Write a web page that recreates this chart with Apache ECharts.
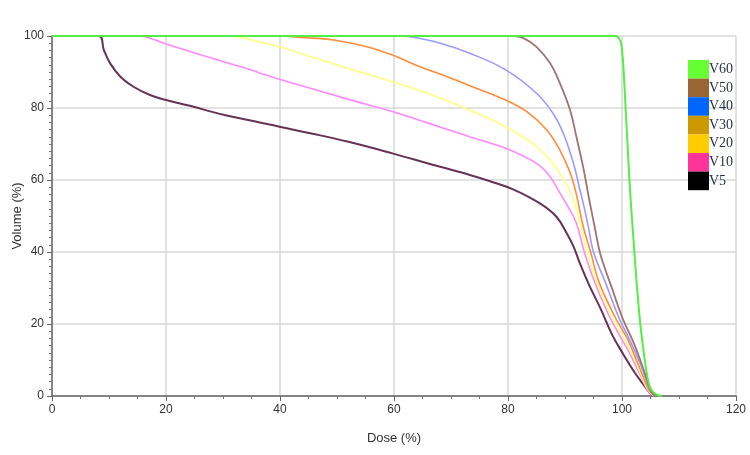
<!DOCTYPE html>
<html lang="en">
<head>
    <meta charset="UTF-8">
    <title>DVH</title>
    <script src="https://cdn.jsdelivr.net/npm/echarts@6/dist/echarts.min.js"></script>
    <style>
        html, body { margin: 0; padding: 0; background: #fff; }
        #main { width: 750px; height: 455px; }
    </style>
</head>
<body>
    <div id="main"></div>
    <script>
        // dose (%) / volume (%) pairs
        var v5 = [[0, 100], [8.2, 100], [9.1, 96.1], [10.2, 92.4], [12, 88.7], [14.3, 85.9], [17.2, 83.6],
            [20, 82.2], [24.2, 80.6], [30.1, 78.1], [35.9, 76.2], [39.9, 74.8], [45.3, 73], [52, 70.6],
            [59.7, 67.4], [66, 64.6], [73.3, 61.4], [77, 59.6], [80.9, 57.4], [85.6, 53.5], [88.5, 49.8],
            [90.3, 45.2], [91.5, 41.5], [92.6, 36.9], [94.3, 30.6], [96.2, 24.4], [98.3, 16.9], [100.3, 11.4],
            [102.1, 6.8], [103.8, 3.1], [105, 0.7], [105.7, 0]];
        var v10 = [[0, 100], [15, 100], [20, 97.8], [27.1, 94.3], [33, 91.5], [39.9, 88], [45.3, 85.5],
            [52, 82.4], [59.7, 79], [66, 75.8], [73.3, 72], [79.6, 68.8], [85, 64.6], [87.4, 60.9], [88.8, 57.2],
            [90.3, 53.2], [92, 48], [93.3, 40.5], [95, 32.5], [97.4, 23.4], [99.2, 17.9], [101.2, 12.3],
            [103.2, 5.8], [104.7, 1.2], [105.7, 0]];
        var v20 = [[0, 100], [31.3, 100], [35, 98.9], [39.9, 97], [45.3, 94.3], [52, 91], [59.7, 87.3],
            [66, 84], [73.3, 79.4], [79.6, 74.8], [85, 69.3], [87.9, 64.6], [90, 59.6], [91.5, 54.4],
            [92.6, 48], [93.9, 40], [95.5, 31.8], [98.3, 21.6], [100.3, 16], [102.4, 9.5], [104.4, 2.1], [105.7, 0]];
        var v30 = [[0, 100], [40, 100], [43.5, 99.6], [49.4, 98.9], [55.2, 97], [59.7, 94.7], [64, 91.8],
            [69.8, 88.4], [73.3, 86.2], [79.6, 82.2], [83.3, 79], [86.8, 73.9], [89.1, 68.3], [90.9, 62],
            [92, 56], [93.2, 47], [94.5, 40], [96, 31.5], [98.9, 21.6], [100.9, 16], [102.9, 8.6], [104.7, 1.7],
            [105.7, 0]];
        var v40 = [[0, 100], [61, 100], [62.8, 99.8], [68.1, 98], [73.3, 95.2], [79.6, 90.6], [85, 84.1],
            [87.9, 78.5], [89.7, 73], [91.5, 64.6], [92.5, 58], [93.2, 53.5], [94.1, 47], [95, 40], [97.1, 31.5],
            [99.5, 21.6], [101.5, 15.1], [103.3, 8.6], [104.9, 1.7], [105.8, 0]];
        var v50 = [[0, 100], [81, 100], [82.7, 99.4], [85, 97], [87.4, 92.4], [89.1, 86.9], [90.9, 79.4],
            [92, 72], [93.2, 63.5], [94.2, 55], [95.2, 47], [96.1, 40], [97.1, 35], [98, 31], [100.1, 21.6],
            [102.2, 14.2], [103.9, 6.8], [105, 1.7], [105.8, 0]];
        var v60 = [[0, 100], [98.8, 100], [99.5, 99.3], [99.9, 97.5], [100.3, 90], [101.3, 60], [102.1, 41.5],
            [102.6, 30.8], [103.2, 20.2], [103.8, 12.3], [104.4, 5.8], [105, 2.1], [105.9, 0.5], [107, 0]];

        var names = ['V60', 'V50', 'V40', 'V30', 'V20', 'V10', 'V5'];
        var legendColors = ['#66ff33', '#996633', '#0066ff', '#cc9900', '#ffcc00', '#ff3399', '#000000'];
        var xTicks = [0, 20, 40, 60, 80, 100, 120];
        var yTicks = [0, 20, 40, 60, 80, 100];

        // curve colours are paler than the legend swatches
        var curves = [
            { name: 'V5', data: v5, color: '#663355', width: 2 },
            { name: 'V10', data: v10, color: '#ff88ff', width: 1.6 },
            { name: 'V20', data: v20, color: '#ffff80', width: 1.6 },
            { name: 'V30', data: v30, color: '#ff8c3a', width: 1.6 },
            { name: 'V40', data: v40, color: '#9a9aff', width: 1.6 },
            { name: 'V50', data: v50, color: '#a07272', width: 1.8 },
            { name: 'V60', data: v60, color: '#55ee44', width: 2 }
        ];

        var myChart = echarts.init(document.getElementById('main'));

        var series = curves.map(function (c) {
            return {
                name: c.name,
                type: 'line',
                data: c.data,
                smooth: 0.4,
                showSymbol: false,
                animation: false,
                lineStyle: { color: c.color, width: c.width },
                itemStyle: { color: c.color }
            };
        });

        var legendData = names.map(function (n, i) {
            return { name: n, itemStyle: { color: legendColors[i] } };
        });

        var axisLabel = {
            color: '#333',
            fontSize: 12,
            fontFamily: 'Liberation Sans Narrow, Liberation Sans, Arial, sans-serif'
        };

        var option = {
            backgroundColor: '#fff',
            grid: { left: 52, right: 14, top: 36, bottom: 59, containLabel: false, outerBoundsMode: 'none' },
            legend: {
                data: legendData,
                orient: 'vertical',
                left: 683,
                top: 55,
                icon: 'rect',
                itemWidth: 21,
                itemHeight: 18.6,
                itemGap: 0,
                selectedMode: false,
                textStyle: {
                    fontFamily: 'Liberation Serif, Times New Roman, serif',
                    fontSize: 14,
                    color: '#2a3344',
                    padding: [3, 0, 0, -5]
                }
            },
            xAxis: {
                type: 'value',
                min: xTicks[0],
                max: xTicks[xTicks.length - 1],
                interval: 20,
                name: 'Dose (%)',
                nameLocation: 'middle',
                nameGap: 36,
                nameMoveOverlap: false,
                nameTextStyle: { color: '#333', fontSize: 13, fontFamily: axisLabel.fontFamily },
                axisLine: { lineStyle: { color: '#666', width: 1.5 } },
                axisTick: { show: true, length: 5, lineStyle: { color: '#666' } },
                minorTick: { show: true, splitNumber: 4, length: 3, lineStyle: { color: '#777' } },
                axisLabel: axisLabel,
                splitLine: { show: true, lineStyle: { color: '#d9d9d9', width: 1.5 } }
            },
            yAxis: {
                type: 'value',
                min: yTicks[0],
                max: yTicks[yTicks.length - 1],
                interval: 20,
                name: 'Volume (%)',
                nameLocation: 'middle',
                nameGap: 28,
                nameMoveOverlap: false,
                nameTextStyle: { color: '#333', fontSize: 13, fontFamily: axisLabel.fontFamily },
                axisLine: { show: true, lineStyle: { color: '#666', width: 1.5 } },
                axisTick: { show: true, length: 5, lineStyle: { color: '#666' } },
                minorTick: { show: true, splitNumber: 10, length: 3, lineStyle: { color: '#777' } },
                axisLabel: axisLabel,
                splitLine: { show: true, lineStyle: { color: '#d9d9d9', width: 1.5 } }
            },
            series: series
        };
        myChart.setOption(option);
    </script>
</body>
</html>
